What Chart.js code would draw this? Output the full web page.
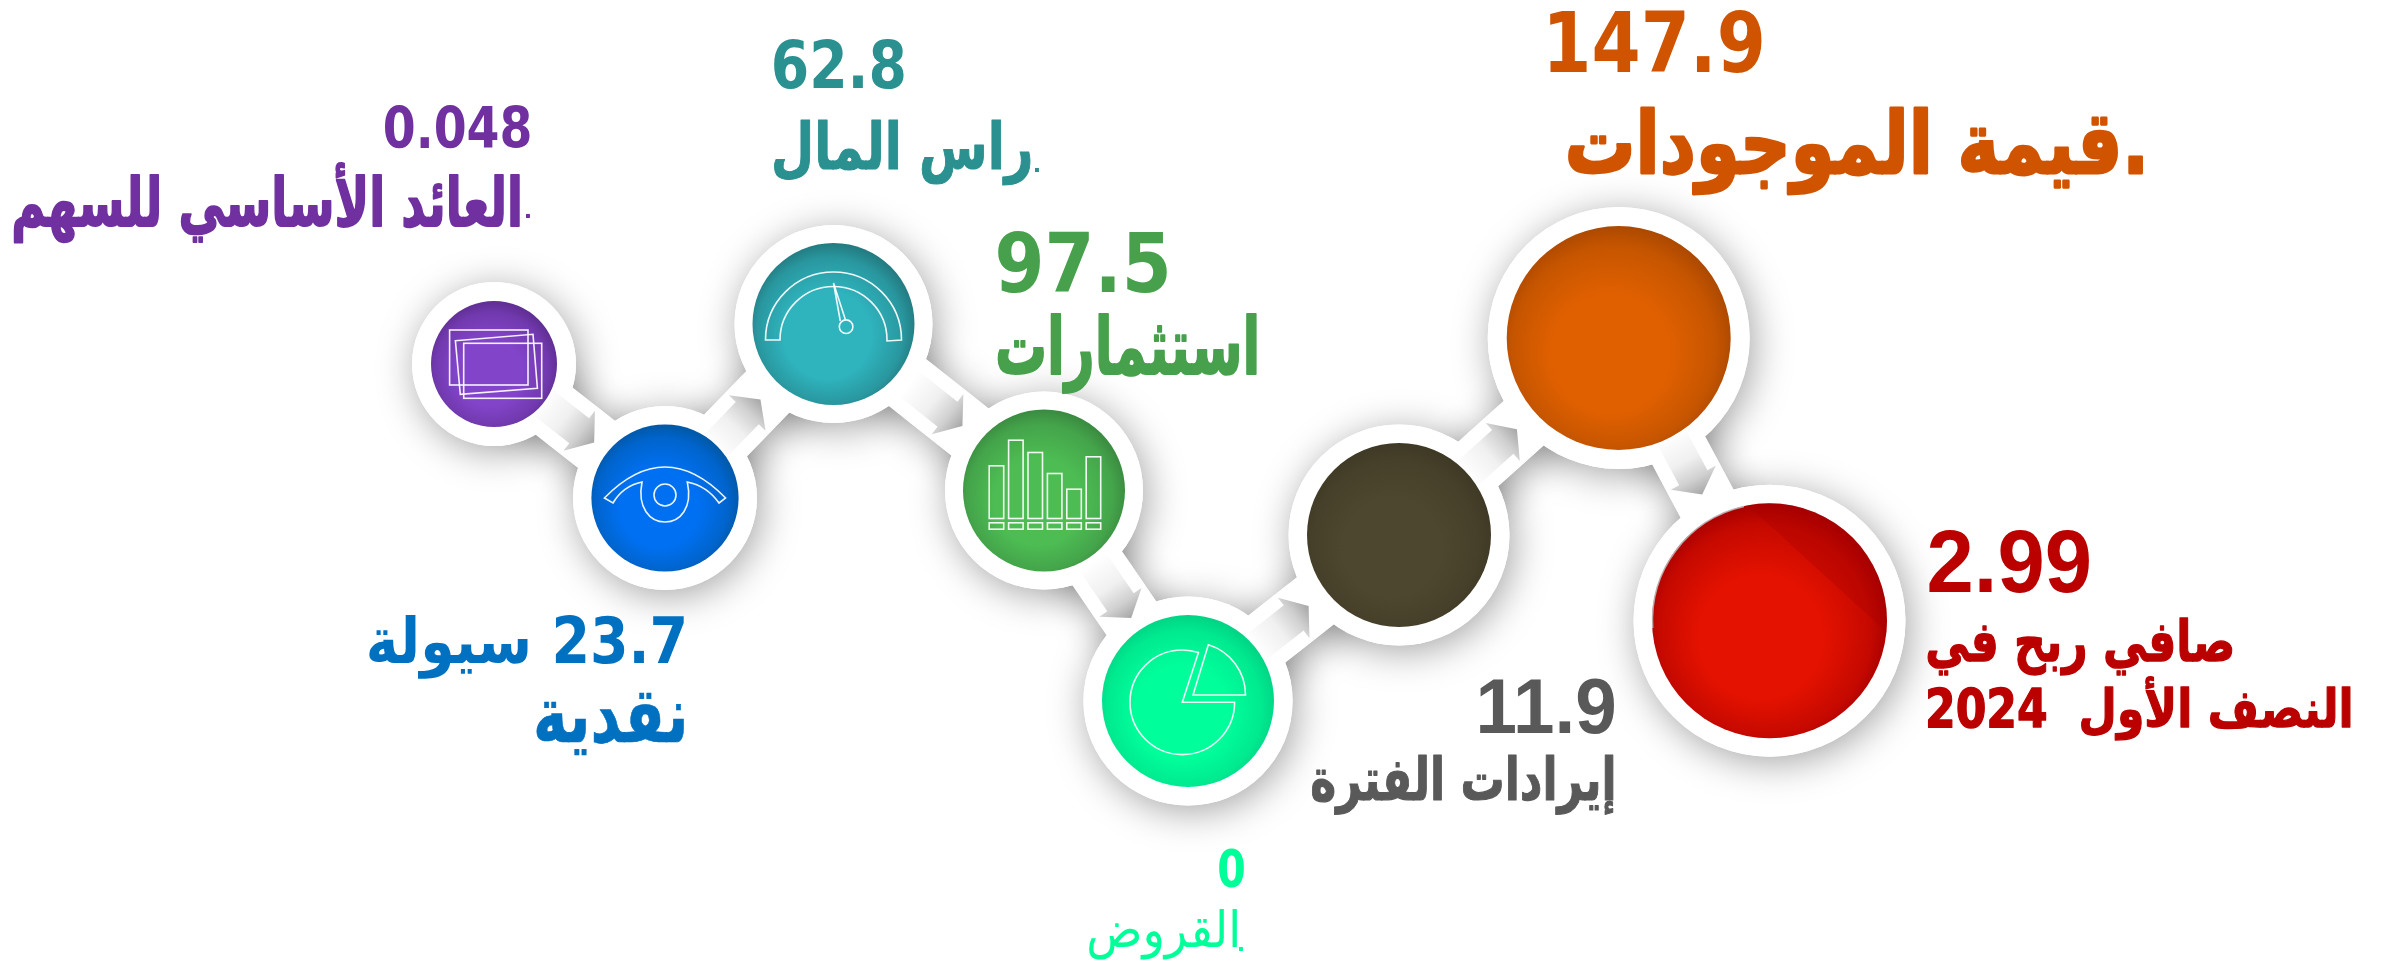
<!DOCTYPE html>
<html lang="ar">
<head>
<meta charset="utf-8">
<title>Chart</title>
<script src="https://cdn.jsdelivr.net/npm/chart.js@4/dist/chart.umd.min.js"></script>
<style>html,body{margin:0;padding:0;background:#fff}canvas{display:block}</style>
</head>
<body>
<canvas id="c" width="2382" height="961"></canvas>
<script>
// ---- data ----
const categories = ["العائد الأساسي للسهم","سيولة","راس المال","استثمارات","القروض","إيرادات الفترة","قيمة الموجودات","صافي ربح في النصف الأول 2024"];
const values = [0.048, 23.7, 62.8, 97.5, 0, 11.9, 147.9, 2.99];
const stepX = [494, 665, 833.5, 1044, 1188, 1399, 1618.7, 1769.5];
const stepY = [364, 498, 324, 490.5, 701, 535, 338, 620.7];
const ringRadius = [82, 92, 99, 99, 104.6, 110.5, 131, 136];
const discRadius = [63, 73.6, 81, 81, 86, 92, 112, 117.5];
const brightColors = ["#8244c9","#0070f2","#2fb4be","#4dbd53","#00ff9b","#4d472f","#e06000","#e41200"];
const edgeColors   = ["#5f2e92","#0058a6","#237a80","#3a8a40","#00d484","#3e3925","#ac4900","#a60000"];
const textColors   = ["#7030a0","#0070c0","#2a9090","#47a04b","#00ff99","#595959","#d05400","#bb0000"];
const arrowGap = [-2, 6, 5, -4, 4.5, 5.7, 7];

// text: [string, left, top, right, bottom, color index, weight, font, extra stroke]
const DJ = "'DejaVu Sans',sans-serif";
const LB = "'Liberation Sans','DejaVu Sans',sans-serif";
const textBlocks = [
  [String(values[0]), 384.6,105,529.8,148.3, 0,"bold",DJ,0],
  ["العائد الأساسي للسهم", 14,163,519,243, 0,"bold",DJ,1.6],
  [".", 526,214,530,218, 0,"bold",DJ,0],
  [String(values[2]), 774,39,904,89, 2,"bold",DJ,0],
  ["راس المال", 774,120,1030,185, 2,"bold",DJ,1],
  [".", 1035,168,1039,172, 2,"bold",DJ,0],
  [String(values[3]), 998,231,1167,293, 3,"bold",DJ,0],
  ["استثمارات", 998,314,1256,393, 3,"bold",DJ,1.6],
  [String(values[6]), 1550,9,1762,73, 6,"bold",DJ,0],
  [".قيمة الموجودات", 1569,108,2142,195, 6,"bold",DJ,2.5],
  [String(values[7]), 1929,530,2089,593, 7,"bold",LB,0],
  ["صافي ربح في", 1928,618,2232,675, 7,"bold",DJ,1.2],
  ["النصف الأول  2024", 1928,677,2350,740, 7,"bold",DJ,1.2],
  [values[1] + " سيولة", 369,615,684,679, 1,"bold",DJ,0],
  ["نقدية", 536.5,692,684,755, 1,"bold",DJ,0.6],
  [String(values[5]), 1480,679,1614,734, 5,"bold",LB,0],
  ["إيرادات الفترة", 1312,755,1613,815, 5,"bold",DJ,1],
  [String(values[4]), 1219,849,1244,888, 4,"bold",DJ,0],
  ["القروض", 1089,909,1237,960, 4,"normal",DJ,0],
  [".", 1239,947,1243,951, 4,"bold",DJ,0]
];

function center(chart,i){
  return {x:chart.scales.x.getPixelForValue(stepX[i]), y:chart.scales.y.getPixelForValue(stepY[i])};
}
function setShadow(ctx){
  ctx.shadowColor='rgba(0,0,0,0.36)'; ctx.shadowBlur=38; ctx.shadowOffsetX=4; ctx.shadowOffsetY=6;
}
function drawBands(chart,ctx){
  const w=60;
  for(let i=0;i<stepX.length-1;i++){
    const a=center(chart,i), b=center(chart,i+1);
    ctx.beginPath();
    ctx.moveTo(a.x,a.y); ctx.lineTo(b.x,b.y);
    ctx.lineWidth=w; ctx.strokeStyle='#fff'; ctx.lineCap='butt';
    ctx.stroke();
  }
}
function drawArrows(chart,ctx){
  for(let i=0;i<stepX.length-1;i++){
    const a=center(chart,i), b=center(chart,i+1);
    const L=Math.hypot(b.x-a.x,b.y-a.y), dx=(b.x-a.x)/L, dy=(b.y-a.y)/L, nx=-dy, ny=dx;
    const tipD=ringRadius[i+1]+arrowGap[i];
    const tx=b.x-dx*tipD, ty=b.y-dy*tipD;
    const P=(al,ac)=>[tx-dx*al+nx*ac, ty-dy*al+ny*ac];
    const pts=[P(0,0),P(19,25.5),P(19,16),P(68,16),P(68,-16),P(19,-16),P(19,-25.5)];
    const s=P(68,0);
    const g=ctx.createLinearGradient(s[0],s[1],tx,ty);
    g.addColorStop(0,'#ffffff'); g.addColorStop(0.45,'#f0f0f0'); g.addColorStop(0.75,'#d0d0d0'); g.addColorStop(1,'#a6a6a6');
    ctx.beginPath(); pts.forEach((p,k)=>k?ctx.lineTo(p[0],p[1]):ctx.moveTo(p[0],p[1])); ctx.closePath();
    ctx.fillStyle=g; ctx.fill();
  }
}
function drawIcons(chart,ctx){
  ctx.save();
  ctx.strokeStyle='rgba(255,255,255,0.92)'; ctx.lineWidth=1.6; ctx.lineJoin='miter';
  const at=(i,fn)=>{const c=center(chart,i);ctx.save();ctx.translate(c.x,c.y);fn();ctx.restore();};
  // frames
  at(0,()=>{
    ctx.strokeRect(-44.4,-34,78.4,55);
    ctx.strokeRect(-30.3,-20.7,78,55);
    ctx.beginPath();ctx.moveTo(-38.6,-23.3);ctx.lineTo(39,-29.7);ctx.lineTo(43.4,24.3);ctx.lineTo(-33.7,30.3);ctx.closePath();ctx.stroke();
  });
  // eye
  at(1,()=>{
    ctx.beginPath();ctx.moveTo(-60.6,0);ctx.quadraticCurveTo(0,-62,60.6,0);ctx.lineTo(54,5);
    ctx.quadraticCurveTo(42,-12,22.3,-16);ctx.bezierCurveTo(28,10,15,24,0,24);ctx.bezierCurveTo(-15,24,-28,10,-23,-16);
    ctx.quadraticCurveTo(-42,-12,-52,5);ctx.closePath();ctx.stroke();
    ctx.beginPath();ctx.arc(0,-3,11,0,Math.PI*2);ctx.stroke();
  });
  // gauge
  at(2,()=>{
    ctx.beginPath();ctx.arc(0,16,68,Math.PI,0);ctx.lineTo(53.5,17);ctx.arc(0,16,53.5,0,Math.PI,true);ctx.closePath();ctx.stroke();
    ctx.beginPath();ctx.moveTo(12,-4);ctx.lineTo(0,-41);ctx.lineTo(6.8,-3);ctx.stroke();
    ctx.beginPath();ctx.arc(12.6,2.7,6.8,0,Math.PI*2);ctx.stroke();
  });
  // bars
  at(3,()=>{
    const tops=[-24.7,-50.3,-38,-17,-1.3,-33.7];
    tops.forEach((t,k)=>{
      const x=-54.8+k*19.4;
      ctx.strokeRect(x,t,14.5,28-t);
      ctx.strokeRect(x,32.3,14.5,6.4);
    });
  });
  // pie
  at(4,()=>{
    const a=-72*Math.PI/180;
    ctx.beginPath();ctx.moveTo(-5.7,1.3);ctx.arc(-5.7,1.3,52.3,0,a+Math.PI*2);ctx.closePath();ctx.stroke();
    ctx.beginPath();ctx.moveTo(5,-6);ctx.arc(5,-6,52.5,-73*Math.PI/180,0);ctx.closePath();ctx.stroke();
  });
  // glossy segment on the last disc
  const c=center(chart,7), r=discRadius[7];
  ctx.save();
  ctx.beginPath();ctx.arc(c.x,c.y,r,0,Math.PI*2);ctx.clip();
  ctx.beginPath();ctx.moveTo(c.x-70,c.y-160);ctx.lineTo(c.x+170,c.y+60);ctx.lineTo(c.x+170,c.y-160);ctx.closePath();
  ctx.fillStyle='rgba(165,0,0,0.3)';ctx.fill();
  ctx.restore();
  ctx.beginPath();ctx.arc(c.x,c.y,r-0.5,Math.PI*0.98,Math.PI*1.43);ctx.strokeStyle='rgba(190,190,190,0.85)';ctx.lineWidth=1.5;ctx.stroke();
  ctx.restore();
}
function drawFitted(ctx,b){
  const [s,l,t,r,bt,ci,weight,font,thick]=b;
  ctx.save();
  ctx.font=weight+" 100px "+font;
  ctx.direction='rtl'; ctx.textAlign='left'; ctx.textBaseline='alphabetic';
  const m=ctx.measureText(s);
  const iw=m.actualBoundingBoxLeft+m.actualBoundingBoxRight, ih=m.actualBoundingBoxAscent+m.actualBoundingBoxDescent;
  const sx=(r-l)/iw, sy=(bt-t)/ih;
  ctx.translate(l+m.actualBoundingBoxLeft*sx, t+m.actualBoundingBoxAscent*sy);
  ctx.scale(sx,sy);
  ctx.fillStyle=textColors[ci];
  ctx.fillText(s,0,0);
  if(thick>0){
    ctx.strokeStyle=textColors[ci]; ctx.lineJoin='round';
    ctx.lineWidth=thick*2/(sx+sy);
    ctx.strokeText(s,0,0);
  }
  ctx.restore();
}

const decor = {
  id:'decor',
  beforeDatasetsDraw(chart){
    const ctx=chart.ctx; ctx.save(); setShadow(ctx); drawBands(chart,ctx); ctx.restore();
  },
  beforeDatasetDraw(chart,args){
    if(args.index===2){ chart.ctx.save(); setShadow(chart.ctx); }
  },
  afterDatasetDraw(chart,args){
    const ctx=chart.ctx;
    if(args.index===2){ ctx.restore(); }
    if(args.index===1){ drawBands(chart,ctx); drawArrows(chart,ctx); }
    if(args.index===0){ drawIcons(chart,ctx); }
  },
  afterDatasetsDraw(chart){
    textBlocks.forEach(b=>drawFitted(chart.ctx,b));
  }
};

const points = r => categories.map((c,i)=>({x:stepX[i],y:stepY[i],r:r[i]}));
function discFill(ctx){
  const i=ctx.dataIndex, chart=ctx.chart;
  if(!chart.chartArea) return brightColors[i];
  const c=center(chart,i), r=discRadius[i];
  const g=chart.ctx.createRadialGradient(c.x-0.12*r,c.y+0.22*r,0,c.x-0.03*r,c.y+0.06*r,r*1.06);
  g.addColorStop(0,brightColors[i]);
  g.addColorStop(0.5,brightColors[i]);
  g.addColorStop(0.85,Chart.helpers.color(brightColors[i]).mix(Chart.helpers.color(edgeColors[i]),0.5).rgbString());
  g.addColorStop(1,edgeColors[i]);
  return g;
}
new Chart(document.getElementById('c'),{
  type:'bubble',
  data:{labels:categories,datasets:[
    {label:'disc',data:points(discRadius),backgroundColor:discFill,borderWidth:0,order:1,clip:false},
    {label:'ring',data:points(ringRadius),backgroundColor:'#ffffff',borderWidth:0,order:2,clip:false},
    {label:'shadow',data:points(ringRadius),backgroundColor:'#ffffff',borderWidth:0,order:3,clip:false}
  ]},
  options:{
    responsive:false,animation:false,devicePixelRatio:1,
    layout:{padding:0,autoPadding:false},
    events:[],
    plugins:{legend:{display:false},tooltip:{enabled:false},title:{display:false}},
    scales:{
      x:{type:'linear',display:false,min:0,max:2382},
      y:{type:'linear',display:false,min:0,max:961,reverse:true}
    }
  },
  plugins:[decor]
});
</script>
</body>
</html>
